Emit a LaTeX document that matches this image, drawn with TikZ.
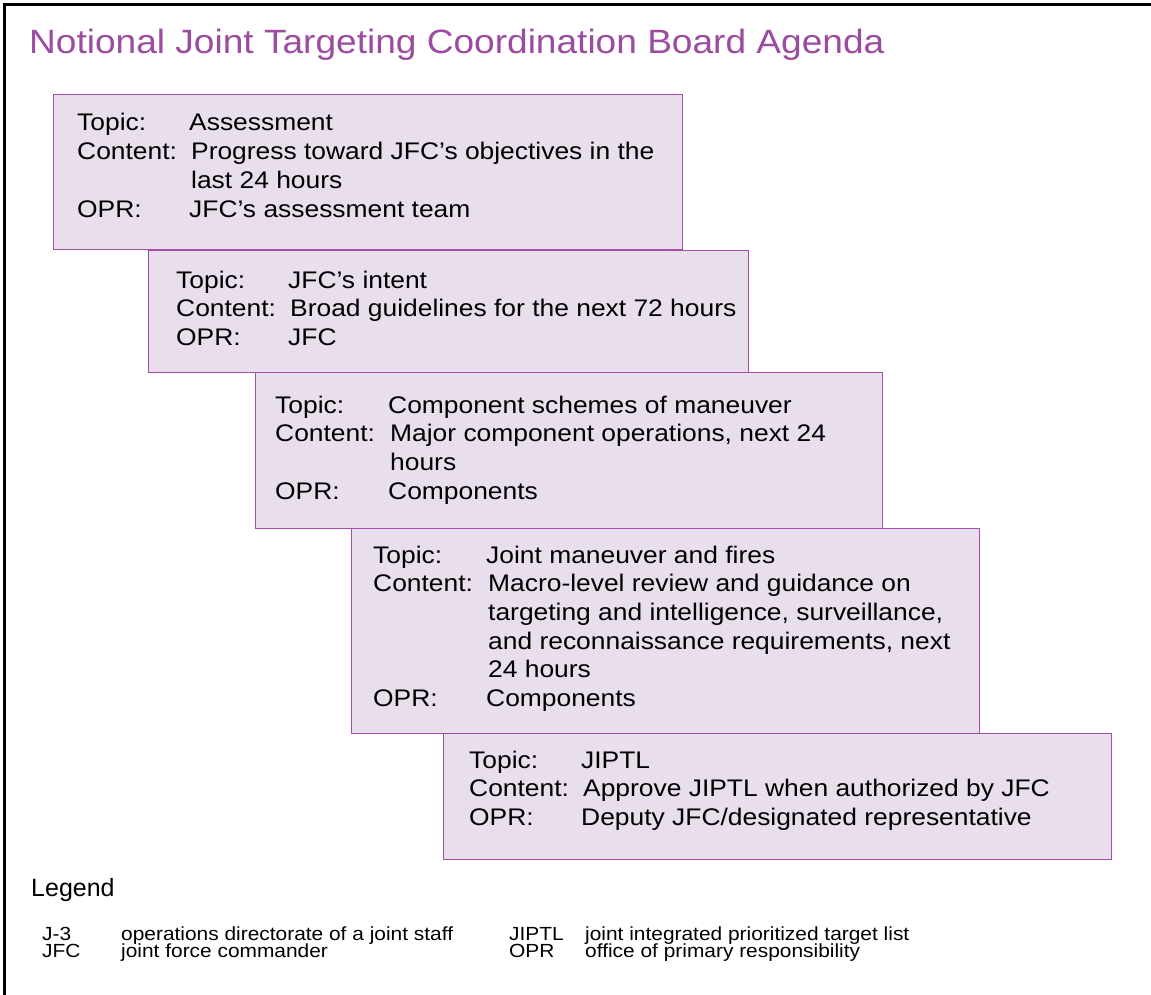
\documentclass[tikz,border=0pt]{standalone}
\usepackage{fontspec}
\setmainfont{Liberation Sans}[FakeStretch=1.1]
\newfontfamily\legfont{Liberation Sans}[FakeStretch=1.1]
\newfontfamily\legtitlefont{Liberation Sans}
\definecolor{titlepurple}{RGB}{155,75,160}
\definecolor{boxfill}{RGB}{233,222,236}
\definecolor{boxborder}{RGB}{166,76,170}
\tikzset{
  agbox/.style={draw=boxborder, fill=boxfill, line width=1.2pt, inner sep=0pt, anchor=north west},
  agtext/.style={anchor=base west, inner sep=0pt, font=\fontsize{24}{28.7}\selectfont, align=left},
  legtxt/.style={anchor=base west, inner sep=0pt, font=\legfont\fontsize{19}{19}\selectfont},
  frameline/.style={line width=3pt, black},
}
\newcommand\cv[1]{\hspace{2pt}#1}
\begin{document}
\begin{tikzpicture}[x=1pt,y=-1pt]
\useasboundingbox (0,0) rectangle (1151,995);
\draw[frameline] (4.5,1000) -- (4.5,4.5) -- (1160,4.5);
\node[anchor=base west, inner sep=0pt, text=titlepurple, font=\fontsize{33.7}{40}\selectfont] (title) at (29,54) {Notional Joint Targeting Coordination Board Agenda};
% boxes
\node[agbox, minimum width=629pt, minimum height=155pt] (b1) at (53,94) {};
\node[agtext] (t1) at (77,131) {\begin{tabular}[t]{@{}p{112pt}@{}l@{}}
Topic: & Assessment\\
Content: & \cv{Progress toward JFC's objectives in the}\\
 & \cv{last 24 hours}\\
OPR: & JFC's assessment team
\end{tabular}};
\node[agbox, minimum width=600pt, minimum height=122pt] (b2) at (148,250) {};
\node[agtext] (t2) at (176,288) {\begin{tabular}[t]{@{}p{112pt}@{}l@{}}
Topic: & JFC's intent\\
Content: & \cv{Broad guidelines for the next 72 hours}\\
OPR: & JFC
\end{tabular}};
\node[agbox, minimum width=627pt, minimum height=156pt] (b3) at (255,372) {};
\node[agtext] (t3) at (275,413) {\begin{tabular}[t]{@{}p{113pt}@{}l@{}}
Topic: & Component schemes of maneuver\\
Content: & \cv{Major component operations, next 24}\\
 & \cv{hours}\\
OPR: & Components
\end{tabular}};
\node[agbox, minimum width=628pt, minimum height=205pt] (b4) at (351,528) {};
\node[agtext] (t4) at (373,563) {\begin{tabular}[t]{@{}p{113pt}@{}l@{}}
Topic: & Joint maneuver and fires\\
Content: & \cv{Macro-level review and guidance on}\\
 & \cv{targeting and intelligence, surveillance,}\\
 & \cv{and reconnaissance requirements, next}\\
 & \cv{24 hours}\\
OPR: & Components
\end{tabular}};
\node[agbox, minimum width=668pt, minimum height=126pt] (b5) at (443,733) {};
\node[agtext] (t5) at (469,768) {\begin{tabular}[t]{@{}p{112pt}@{}l@{}}
Topic: & JIPTL\\
Content: & \cv{Approve JIPTL when authorized by JFC}\\
OPR: & Deputy JFC/designated representative
\end{tabular}};
% legend
\node[anchor=base west, inner sep=0pt, font=\legtitlefont\fontsize{25}{30}\selectfont] (lg) at (31,896) {Legend};
\node[legtxt] (a1) at (42,940) {J-3};
\node[legtxt] (d1) at (121,940) {operations directorate of a joint staff};
\node[legtxt] (a2) at (42,957) {JFC};
\node[legtxt] (d2) at (121,957) {joint force commander};
\node[legtxt] (a3) at (509,940) {JIPTL};
\node[legtxt] (d3) at (585,940) {joint integrated prioritized target list};
\node[legtxt] (a4) at (509,957) {OPR};
\node[legtxt] (d4) at (585,957) {office of primary responsibility};
\end{tikzpicture}
\end{document}
